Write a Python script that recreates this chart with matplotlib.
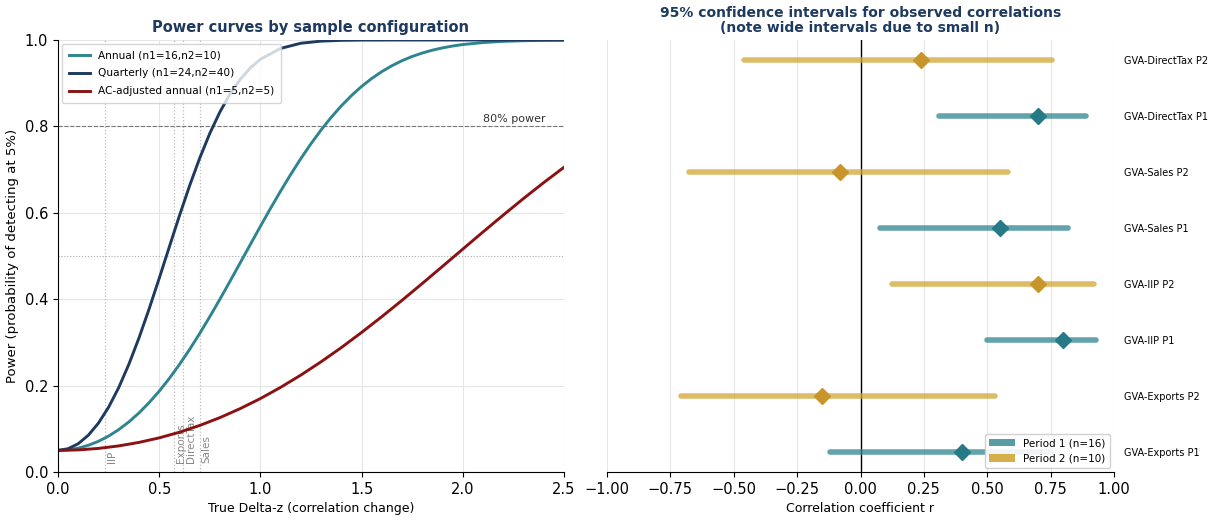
import matplotlib
matplotlib.use('Agg')
import matplotlib.pyplot as plt
from matplotlib.patches import Patch

matplotlib.rcParams.update({'font.size': 9, 'font.family': 'DejaVu Sans'})

TEAL = '#2e8590'
NAVY = '#1f3a5f'
RED = '#8b1212'
GOLD = '#d4a537'
TITLE_COL = '#1f3a5f'

# power curves, sampled along delta-z
dz_annual = [0.0, 0.05, 0.1, 0.15, 0.2, 0.25, 0.3, 0.35, 0.4, 0.45, 0.5, 0.55,
             0.6, 0.65, 0.7, 0.75, 0.8, 0.85, 0.9, 0.95, 1.0, 1.05, 1.1, 1.15,
             1.2, 1.25, 1.3, 1.35, 1.4, 1.45, 1.5, 1.55, 1.6, 1.65, 1.7, 1.75,
             1.8, 1.85, 1.9, 1.95, 2.0, 2.1, 2.2, 2.3, 2.4, 2.5]
pw_annual = [0.050, 0.0513, 0.0552, 0.0618, 0.0711, 0.0831, 0.0981, 0.1159,
             0.1367, 0.1605, 0.1870, 0.2166, 0.2488, 0.2836, 0.3206, 0.3596,
             0.4000, 0.4416, 0.4840, 0.5265, 0.5687, 0.6102, 0.6504, 0.6890,
             0.7257, 0.7600, 0.7919, 0.8211, 0.8476, 0.8714, 0.8925, 0.9109,
             0.9269, 0.9405, 0.9522, 0.9619, 0.9699, 0.9765, 0.9818, 0.9861,
             0.9895, 0.9941, 0.9969, 0.9984, 0.9992, 0.9996]

dz_quarterly = [0.0, 0.05, 0.1, 0.15, 0.2, 0.25, 0.3, 0.35, 0.4, 0.45, 0.5,
                0.55, 0.6, 0.65, 0.7, 0.75, 0.8, 0.85, 0.9, 0.95, 1.0, 1.1,
                1.2, 1.3, 1.4, 1.5, 1.7, 2.0, 2.5]
pw_quarterly = [0.050, 0.0539, 0.0655, 0.0852, 0.1133, 0.1500, 0.1954, 0.2492,
                0.3102, 0.3773, 0.4483, 0.5211, 0.5933, 0.6624, 0.7264, 0.7838,
                0.8335, 0.8751, 0.9089, 0.9354, 0.9554, 0.9806, 0.9925, 0.9974,
                0.9992, 0.9998, 1.0, 1.0, 1.0]

dz_ac = [0.0, 0.1, 0.2, 0.3, 0.4, 0.5, 0.6, 0.7, 0.8, 0.9, 1.0, 1.1, 1.2,
         1.3, 1.4, 1.5, 1.6, 1.7, 1.8, 1.9, 2.0, 2.1, 2.2, 2.3, 2.4, 2.5]
pw_ac = [0.050, 0.0511, 0.0546, 0.0604, 0.0685, 0.0790, 0.0921, 0.1077,
         0.1259, 0.1467, 0.1700, 0.1960, 0.2244, 0.2552, 0.2881, 0.3231,
         0.3596, 0.3975, 0.4365, 0.4761, 0.5160, 0.5557, 0.5948, 0.6331,
         0.6700, 0.7054]

# observed delta-z per pair
obs_names = ['IIP', 'Exports', 'DirectTax', 'Sales']
obs_dz = [0.23, 0.575, 0.62, 0.70]

# correlations with 95% CIs (bottom to top)
ci_labels = ['GVA-Exports P1', 'GVA-Exports P2', 'GVA-IIP P1', 'GVA-IIP P2',
             'GVA-Sales P1', 'GVA-Sales P2', 'GVA-DirectTax P1', 'GVA-DirectTax P2']
ci_r = [0.40, -0.15, 0.80, 0.70, 0.55, -0.08, 0.70, 0.24]
ci_lo = [-0.12, -0.71, 0.50, 0.125, 0.075, -0.675, 0.31, -0.46]
ci_hi = [0.75, 0.53, 0.93, 0.92, 0.82, 0.58, 0.89, 0.755]
ci_period = [1, 2, 1, 2, 1, 2, 1, 2]


def main():
    fig = plt.figure(figsize=(12.1, 5.22), dpi=100)
    ax1 = fig.add_axes([58 / 1210, 50 / 522, 506 / 1210, 432 / 522])
    ax2 = fig.add_axes([607 / 1210, 50 / 522, 507 / 1210, 432 / 522])

    # left: power curves
    ax1.grid(True, color='#e6e6e6', linewidth=0.8)
    ax1.set_axisbelow(True)
    for d, name in zip(obs_dz, obs_names):
        ax1.axvline(d, color='#bbbbbb', linestyle=':', linewidth=0.9, zorder=1)
        ax1.text(d + 0.01, 0.02, name, rotation=90, fontsize=7.5, color='#888888',
                 ha='left', va='bottom', zorder=1)
    ax1.axhline(0.8, color='#777777', linestyle='--', linewidth=0.8, zorder=1)
    ax1.axhline(0.5, color='#aaaaaa', linestyle=':', linewidth=0.8, zorder=1)
    ax1.text(2.41, 0.805, '80% power', fontsize=8, ha='right', va='bottom', color='#333333')

    ax1.plot(dz_annual, pw_annual, color=TEAL, linewidth=2.1, label='Annual (n1=16,n2=10)')
    ax1.plot(dz_quarterly, pw_quarterly, color=NAVY, linewidth=2.1,
             label='Quarterly (n1=24,n2=40)')
    ax1.plot(dz_ac, pw_ac, color=RED, linewidth=2.1, label='AC-adjusted annual (n1=5,n2=5)')

    ax1.set_xlim(0, 2.5)
    ax1.set_ylim(0, 1.0)
    ax1.set_xticks([0.0, 0.5, 1.0, 1.5, 2.0, 2.5])
    ax1.set_yticks([0.0, 0.2, 0.4, 0.6, 0.8, 1.0])
    ax1.tick_params(labelsize=10.5)
    ax1.set_xlabel('True Delta-z (correlation change)', fontsize=9)
    ax1.set_ylabel('Power (probability of detecting at 5%)', fontsize=9.5)
    ax1.set_title('Power curves by sample configuration', fontsize=10.5,
                  fontweight='bold', color=TITLE_COL, pad=6)
    ax1.spines['top'].set_visible(False)
    ax1.spines['right'].set_visible(False)
    ax1.legend(loc='upper left', fontsize=7.6, framealpha=0.8, borderpad=0.6,
               handlelength=2.0, labelspacing=0.75, borderaxespad=0.4)

    # right: confidence intervals
    ax2.grid(True, axis='x', color='#e6e6e6', linewidth=0.8)
    ax2.set_axisbelow(True)
    ax2.axvline(0, color='black', linewidth=1.0)
    for i in range(len(ci_labels)):
        col = TEAL if ci_period[i] == 1 else GOLD
        mcol = '#267a85' if ci_period[i] == 1 else '#c8952a'
        ax2.plot([ci_lo[i], ci_hi[i]], [i, i], color=col, alpha=0.75,
                 linewidth=4, solid_capstyle='round')
        ax2.plot(ci_r[i], i, marker='D', markersize=8, color=mcol, linestyle='none')

    ax2.set_xlim(-1.0, 1.0)
    ax2.set_ylim(-0.36, 7.36)
    ax2.set_xticks([-1.0, -0.75, -0.5, -0.25, 0.0, 0.25, 0.5, 0.75, 1.0])
    ax2.set_xticklabels(['\u22121.00', '\u22120.75', '\u22120.50', '\u22120.25', '0.00',
                         '0.25', '0.50', '0.75', '1.00'])
    ax2.set_yticks(range(len(ci_labels)))
    ax2.set_yticklabels(ci_labels, fontsize=7)
    ax2.yaxis.tick_right()
    ax2.tick_params(axis='y', length=0, pad=7)
    ax2.tick_params(axis='x', labelsize=10.5)
    for s in ['top', 'right', 'left']:
        ax2.spines[s].set_visible(False)
    ax2.set_xlabel('Correlation coefficient r', fontsize=9)
    ax2.set_title('95% confidence intervals for observed correlations\n'
                  '(note wide intervals due to small n)', fontsize=10,
                  fontweight='bold', color=TITLE_COL, pad=6, linespacing=1.1)
    handles = [Patch(facecolor=TEAL, alpha=0.8, label='Period 1 (n=16)'),
               Patch(facecolor=GOLD, alpha=0.9, label='Period 2 (n=10)')]
    ax2.legend(handles=handles, loc='lower right', fontsize=7.5, framealpha=0.9,
               handlelength=2.5, borderaxespad=0.4)

    fig.savefig('out.png', dpi=100)


if __name__ == "__main__":
    main()
